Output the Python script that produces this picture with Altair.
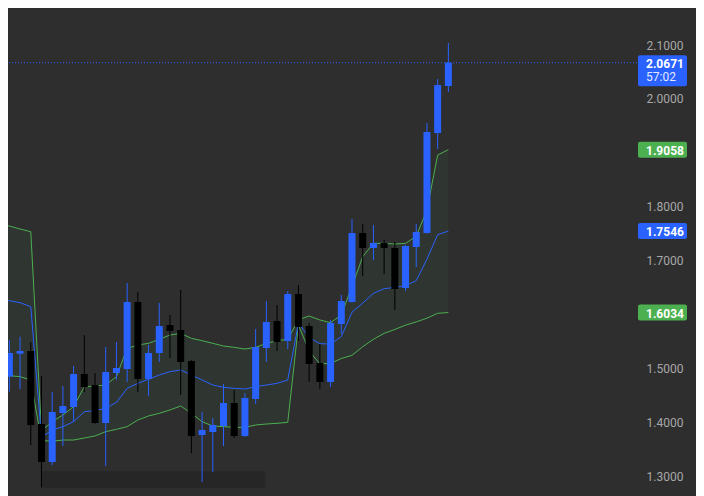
import altair as alt
import pandas as pd

# ---------------- data ----------------
candle_index = list(range(42))
opens = [1.4844, 1.5271, 1.5320, 1.3965, 1.3260, 1.4169, 1.4281, 1.4893, 1.4689, 1.3984,
         1.4912, 1.4986, 1.6230, 1.4800, 1.5283, 1.5803, 1.5710, 1.5135, 1.3761, 1.3817,
         1.3928, 1.4355, 1.3743, 1.4429, 1.5376, 1.5877, 1.5506, 1.6378, 1.5784, 1.5097,
         1.4745, 1.5821, 1.6230, 1.7510, 1.7232, 1.7325, 1.7232, 1.6490, 1.7251, 1.7510,
         1.9366, 2.0239]
highs = [1.5524, 1.5586, 1.5487, 1.4856, 1.4559, 1.4671, 1.5042, 1.5617, 1.4912, 1.5394,
         1.5487, 1.6582, 1.6415, 1.5432, 1.6211, 1.5988, 1.6452, 1.5150, 1.4188, 1.4077,
         1.4708, 1.4596, 1.4541, 1.5729, 1.6248, 1.6174, 1.6434, 1.6545, 1.5840, 1.5450,
         1.5896, 1.6360, 1.7770, 1.7678, 1.7659, 1.7381, 1.7343, 1.7290, 1.7678, 1.9552,
         2.0368, 2.1037]
lows = [1.4565, 1.4615, 1.3575, 1.2790, 1.3204, 1.3557, 1.4002, 1.4559, 1.3970, 1.3186,
        1.4782, 1.4745, 1.4559, 1.4485, 1.5116, 1.5190, 1.4504, 1.3427, 1.2889, 1.3074,
        1.3557, 1.3705, 1.3724, 1.4336, 1.5116, 1.5320, 1.5357, 1.5506, 1.4745, 1.4615,
        1.4652, 1.5636, 1.6220, 1.6712, 1.7009, 1.6749, 1.6081, 1.6434, 1.6879, 1.7500,
        1.9069, 2.0127]
closes = [1.5283, 1.5320, 1.3947, 1.3260, 1.4188, 1.4299, 1.4893, 1.4652, 1.3984, 1.4930,
          1.5005, 1.6230, 1.4800, 1.5283, 1.5784, 1.5691, 1.5116, 1.3743, 1.3854, 1.3947,
          1.4355, 1.3743, 1.4448, 1.5394, 1.5859, 1.5487, 1.6378, 1.5766, 1.5079, 1.4745,
          1.5840, 1.6248, 1.7510, 1.7232, 1.7325, 1.7232, 1.6471, 1.7269, 1.7529, 1.9385,
          2.0257, 2.0671]

band_index = list(range(-1, 42))
upper_band = [1.7680, 1.7640, 1.7585, 1.7535, 1.3840, 1.4009, 1.4132, 1.4287, 1.4658, 1.4671,
              1.4689, 1.4844, 1.5370, 1.5432, 1.5463, 1.5537, 1.5617, 1.5648, 1.5555, 1.5512,
              1.5463, 1.5413, 1.5388, 1.5357, 1.5388, 1.5462, 1.5512, 1.5537, 1.5900, 1.5970,
              1.5896, 1.5846, 1.5988, 1.6520, 1.7071, 1.7319, 1.7319, 1.7306, 1.7319, 1.7450,
              1.7940, 1.8958, 1.9058]
middle_band = [1.6280, 1.6254, 1.6217, 1.6143, 1.3720, 1.3854, 1.3916, 1.4009, 1.4194, 1.4213,
               1.4256, 1.4367, 1.4627, 1.4720, 1.4794, 1.4875, 1.4937, 1.4968, 1.4875, 1.4782,
               1.4689, 1.4646, 1.4627, 1.4615, 1.4658, 1.4689, 1.4720, 1.4782, 1.5840, 1.5570,
               1.5456, 1.5450, 1.5586, 1.6040, 1.6210, 1.6390, 1.6477, 1.6500, 1.6536, 1.6626,
               1.7025, 1.7480, 1.7546]
lower_band = [1.4870, 1.4862, 1.4844, 1.4782, 1.3660, 1.3645, 1.3668, 1.3668, 1.3705, 1.3743,
              1.3823, 1.3866, 1.3916, 1.4039, 1.4114, 1.4163, 1.4225, 1.4300, 1.4163, 1.4008,
              1.3928, 1.3916, 1.3903, 1.3903, 1.3947, 1.3965, 1.3978, 1.3996, 1.5800, 1.5320,
              1.5080, 1.5090, 1.5180, 1.5240, 1.5400, 1.5537, 1.5648, 1.5720, 1.5800, 1.5860,
              1.5930, 1.6020, 1.6034]

tick_values = [1.3, 1.4, 1.5, 1.7, 1.8, 2.0, 2.1]
last_price = [2.0671]
last_price_text = ["2.0671"]
countdown_text = ["57:02"]
band_label_values = [1.9058, 1.7546, 1.6034]
band_label_texts = ["1.9058", "1.7546", "1.6034"]
band_label_kinds = ["green", "blue", "green"]
shade_x = [3.0]
shade_x2 = [23.9]
shade_y = [1.278]
shade_y2 = [1.309]

# ---------------- styles ----------------
BG = "#2e2e2e"
BLUE = "#2962ff"
GREEN = "#4caf50"
DOWN = "#000000"
FONT = "Roboto"

candles = pd.DataFrame({"i": candle_index, "open": opens, "high": highs,
                        "low": lows, "close": closes})
bands = pd.DataFrame({"i": band_index, "upper": upper_band,
                      "middle": middle_band, "lower": lower_band})
last_df = pd.DataFrame({"p": last_price, "t": last_price_text, "c": countdown_text})
labels_df = pd.DataFrame({"p": band_label_values, "t": band_label_texts,
                          "k": band_label_kinds})
shade_df = pd.DataFrame({"x": shade_x, "x2": shade_x2, "y": shade_y, "y2": shade_y2})

xscale = alt.Scale(domain=[0.340, 58.15], nice=False, zero=False)
yscale = alt.Scale(domain=[1.2629, 2.16868], nice=False, zero=False)
yaxis = alt.Axis(orient="right", values=tick_values, format=".4f", title=None,
                 grid=False, ticks=False, domain=False, labelColor="#a8a8a8",
                 labelFont=FONT, labelFontSize=12, labelPadding=9, labelAlign="left",
                 labelBaseline="middle")


def Y(field):
    return alt.Y(field, type="quantitative", scale=yscale, axis=yaxis)


def X(field):
    return alt.X(field, type="quantitative", scale=xscale, axis=None)


color_cond = alt.condition("datum.close >= datum.open", alt.value(BLUE), alt.value(DOWN))

shade = alt.Chart(shade_df).mark_rect(color="#262626", clip=True).encode(
    x=X("x"), x2="x2", y=Y("y"), y2="y2")

area = alt.Chart(bands).mark_area(color=GREEN, opacity=0.06, clip=True).encode(
    x=X("i"), y=Y("lower"), y2="upper")

upper_line = alt.Chart(bands).mark_line(color=GREEN, strokeWidth=1, clip=True).encode(
    x=X("i"), y=Y("upper"))
lower_line = alt.Chart(bands).mark_line(color=GREEN, strokeWidth=1, clip=True).encode(
    x=X("i"), y=Y("lower"))
mid_line = alt.Chart(bands).mark_line(color=BLUE, strokeWidth=1, clip=True).encode(
    x=X("i"), y=Y("middle"))

wicks = alt.Chart(candles).mark_rule(strokeWidth=1, clip=True).encode(
    x=X("i"), y=Y("low"), y2="high", color=color_cond)
bodies = alt.Chart(candles).mark_bar(size=7, clip=True).encode(
    x=X("i"), y=Y("open"), y2="close", color=color_cond)

price_rule = alt.Chart(last_df).mark_rule(color=BLUE, strokeWidth=1, strokeDash=[1, 2]).encode(
    y=Y("p"))

price_box = alt.Chart(last_df).mark_tick(color=BLUE, thickness=31, size=49, yOffset=8,
                                         opacity=1, cornerRadius=2).encode(
    x=alt.value(654.5), y=Y("p"))
price_txt = alt.Chart(last_df).mark_text(color="#ffffff", fontWeight="bold", fontSize=12,
                                         font=FONT, align="left", baseline="middle",
                                         dy=1).encode(
    x=alt.value(638), y=Y("p"), text="t:N")
count_txt = alt.Chart(last_df).mark_text(color="#e3e9ff", fontSize=12, font=FONT,
                                         align="left", baseline="middle", dy=14).encode(
    x=alt.value(638), y=Y("p"), text="c:N")

label_color = alt.Color("k:N", scale=alt.Scale(domain=["green", "blue"], range=[GREEN, BLUE]),
                        legend=None)
label_boxes = alt.Chart(labels_df).mark_tick(thickness=16, size=49, opacity=1,
                                             cornerRadius=2).encode(
    x=alt.value(654.5), y=Y("p"), color=label_color)
label_txt = alt.Chart(labels_df).mark_text(color="#ffffff", fontWeight="bold", fontSize=12,
                                           font=FONT, align="left", baseline="middle",
                                           dy=1).encode(
    x=alt.value(638), y=Y("p"), text="t:N")

chart = alt.layer(
    shade, area, upper_line, lower_line, mid_line, wicks, bodies,
    price_rule, price_box, price_txt, count_txt, label_boxes, label_txt
).properties(
    width=629, height=488, background=BG,
    padding={"left": 0, "top": 0, "right": 59, "bottom": 0},
    autosize=alt.AutoSizeParams(type="none")
).configure_view(stroke=None)

chart.save("out.html", embed_options={"renderer": "svg", "actions": False})
